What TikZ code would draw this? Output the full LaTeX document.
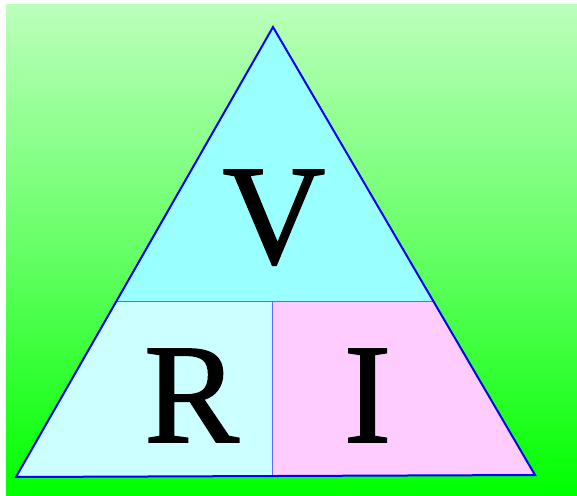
\documentclass[tikz,border=0pt]{standalone}
\usepackage{fontspec}
\setmainfont{Liberation Serif}
\newfontfamily\lettfont[FakeBold=1.2]{Liberation Serif}
\tikzset{
  outline/.style={draw=blue, line width=2pt, line join=miter},
  divider/.style={draw={rgb,255:red,100;green,100;blue,255}, line width=1pt},
  letter/.style={inner sep=0pt, anchor=base, font=\lettfont\fontsize{142}{142}\selectfont}
}
\definecolor{topfill}{HTML}{99FFFF}
\definecolor{leftfill}{HTML}{CCFFFF}
\definecolor{rightfill}{HTML}{FFCCFF}
\definecolor{bgtop}{HTML}{BBFFBB}
\definecolor{bgmid}{HTML}{66FF66}
\definecolor{bgbot}{HTML}{00FF00}
\begin{document}
\begin{tikzpicture}[x=1pt,y=-1pt]
\useasboundingbox (0,0) rectangle (577,495);
\shade[top color=bgtop, bottom color=bgbot, middle color=bgmid, shading=axis] (6,5) rectangle (577,495);
\coordinate (A) at (273,27);
\coordinate (BL) at (16,477);
\coordinate (BR) at (535,475);
\coordinate (ML) at (116.5,301);
\coordinate (MR) at (433,301);
\coordinate (MT) at (272.5,301);
\coordinate (MB) at (272.5,476);
\fill[topfill] (A) -- (MR) -- (ML) -- cycle;
\fill[leftfill] (ML) -- (MT) -- (MB) -- (BL) -- cycle;
\fill[rightfill] (MT) -- (MR) -- (BR) -- (MB) -- cycle;
\draw[divider] (ML) -- (MR);
\draw[divider] (MT) -- (MB);
\draw[outline] (A) -- (BR) -- (BL) -- cycle;
\node[letter] (V) at (274,263) {V};
\node[letter] (R) at (191.5,442) {R};
\node[letter] (I) at (367.5,442) {I};
\end{tikzpicture}
\end{document}
